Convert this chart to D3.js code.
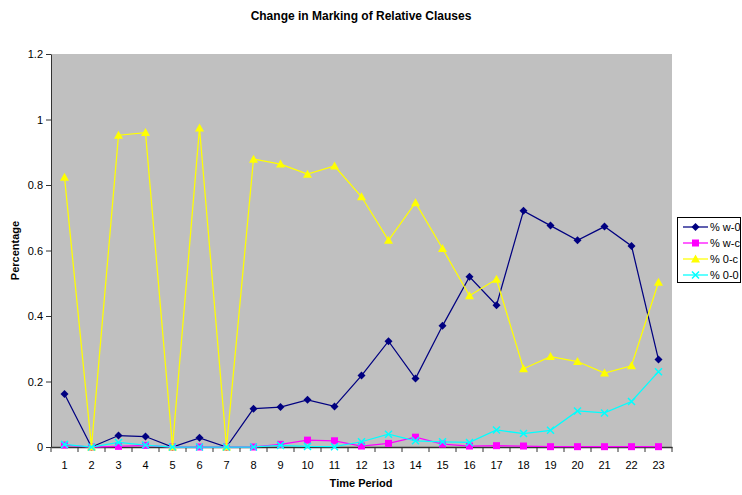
<!DOCTYPE html>
<html>
<head>
<meta charset="utf-8">
<script src="https://cdn.jsdelivr.net/npm/d3@7"></script>
<style>
  html, body { margin: 0; padding: 0; background: #fff; }
  svg { display: block; font-family: Arial, "Liberation Sans", sans-serif; }
</style>
</head>
<body>
<svg id="chart" width="742" height="495"></svg>
<script>
const periods = d3.range(1, 24).map(String);
const seriesNames = ["% w-0", "% w-c", "% 0-c", "% 0-0"];
const w0 = [0.162, 0, 0.035, 0.032, 0, 0.028, 0, 0.117, 0.122, 0.144, 0.124, 0.218, 0.323, 0.209, 0.370, 0.520, 0.433, 0.721, 0.676, 0.631, 0.673, 0.614, 0.267];
const wc = [0.006, 0, 0.002, 0.005, 0, 0, 0, 0, 0.008, 0.021, 0.019, 0.003, 0.011, 0.030, 0.009, 0.003, 0.004, 0.003, 0.001, 0.001, 0.001, 0.001, 0.001];
const oc = [0.824, 0, 0.952, 0.960, 0, 0.974, 0, 0.879, 0.864, 0.833, 0.858, 0.764, 0.631, 0.746, 0.606, 0.462, 0.512, 0.239, 0.276, 0.261, 0.226, 0.248, 0.503];
const oo = [0.008, 0, 0.014, 0.006, 0, 0, 0, 0, 0.005, 0.002, 0.001, 0.016, 0.039, 0.019, 0.016, 0.014, 0.052, 0.041, 0.051, 0.110, 0.104, 0.139, 0.230];
const yTicks = [0, 0.2, 0.4, 0.6, 0.8, 1, 1.2];
const colors = ["#000080", "#FF00FF", "#FFFF00", "#00FFFF"];
const markers = ["diamond", "square", "triangle", "x"];
const seriesValues = [w0, wc, oc, oo];

const svg = d3.select("#chart");
const pL = 51, pR = 672, pT = 54, pB = 447;

const x = d3.scaleBand().domain(periods).range([pL, pR]).padding(0);
const y = d3.scaleLinear().domain([0, 1.2]).range([pB, pT]);

// plot area
svg.append("rect").attr("x", pL).attr("y", pT)
  .attr("width", pR - pL).attr("height", pB - pT).attr("fill", "#C0C0C0");

// title
svg.append("text").attr("x", 361).attr("y", 20).attr("text-anchor", "middle")
  .attr("font-size", 12).attr("font-weight", "bold").text("Change in Marking of Relative Clauses");

// y axis
const yAxis = d3.axisLeft(y).tickValues(yTicks).tickSize(5).tickSizeOuter(0)
  .tickFormat(d => d3.format("~g")(d));
const gy = svg.append("g").attr("transform", `translate(${pL},0)`).call(yAxis);
gy.select(".domain").attr("stroke", "#333");
gy.selectAll(".tick line").attr("stroke", "#333");
gy.selectAll(".tick text").attr("font-size", 11).attr("fill", "#000").attr("font-family", "Arial, 'Liberation Sans', sans-serif");

// x axis
const xAxis = d3.axisBottom(x).tickSize(0).tickSizeOuter(0);
const gx = svg.append("g").attr("transform", `translate(0,${pB})`).call(xAxis);
gx.select(".domain").attr("stroke", "#333").attr("stroke-width", 1.5);
gx.selectAll(".tick text").attr("font-size", 11).attr("fill", "#000").attr("dy", "1.7em")
  .attr("font-family", "Arial, 'Liberation Sans', sans-serif");
// boundary ticks
const bounds = periods.map(p => x(p)).concat([x(periods[periods.length - 1]) + x.bandwidth()]);
gx.selectAll(".btick").data(bounds).enter().append("line")
  .attr("x1", d => d).attr("x2", d => d).attr("y1", 0).attr("y2", 5).attr("stroke", "#333");

// axis titles
svg.append("text").attr("x", 361).attr("y", 487).attr("text-anchor", "middle")
  .attr("font-size", 11).attr("font-weight", "bold").text("Time Period");
svg.append("text").attr("transform", `translate(19,${(pT + pB) / 2}) rotate(-90)`)
  .attr("text-anchor", "middle").attr("font-size", 11).attr("font-weight", "bold").text("Percentage");

function drawMarker(g, type, color) {
  if (type === "diamond") {
    g.append("path").attr("d", "M0,-4L4,0L0,4L-4,0Z").attr("fill", color);
  } else if (type === "square") {
    g.append("rect").attr("x", -3.5).attr("y", -3.5).attr("width", 7).attr("height", 7).attr("fill", color);
  } else if (type === "triangle") {
    g.append("path").attr("d", "M0,-4.5L4.5,3.5L-4.5,3.5Z").attr("fill", color);
  } else {
    g.append("path").attr("d", "M-3.5,-3.5L3.5,3.5M-3.5,3.5L3.5,-3.5").attr("stroke", color).attr("stroke-width", 1.5).attr("fill", "none");
  }
}

const line = d3.line().x((d, i) => x(periods[i]) + x.bandwidth() / 2).y(d => y(d));

seriesValues.forEach((vals, si) => {
  const g = svg.append("g");
  g.append("path").datum(vals).attr("d", line).attr("fill", "none")
    .attr("stroke", colors[si]).attr("stroke-width", 1.25);
  vals.forEach((v, i) => {
    const m = g.append("g").attr("transform", `translate(${x(periods[i]) + x.bandwidth() / 2},${y(v)})`);
    drawMarker(m, markers[si], colors[si]);
  });
});

// legend
const lg = svg.append("g");
lg.append("rect").attr("x", 677.5).attr("y", 217.5).attr("width", 63).attr("height", 65)
  .attr("fill", "#fff").attr("stroke", "#000");
seriesNames.forEach((name, i) => {
  const yy = 227 + i * 16;
  lg.append("line").attr("x1", 683).attr("x2", 708).attr("y1", yy).attr("y2", yy)
    .attr("stroke", colors[i]).attr("stroke-width", 1.25);
  const m = lg.append("g").attr("transform", `translate(695.5,${yy})`);
  drawMarker(m, markers[i], colors[i]);
  lg.append("text").attr("x", 710).attr("y", yy + 4).attr("font-size", 11).text(name);
});
</script>
</body>
</html>
